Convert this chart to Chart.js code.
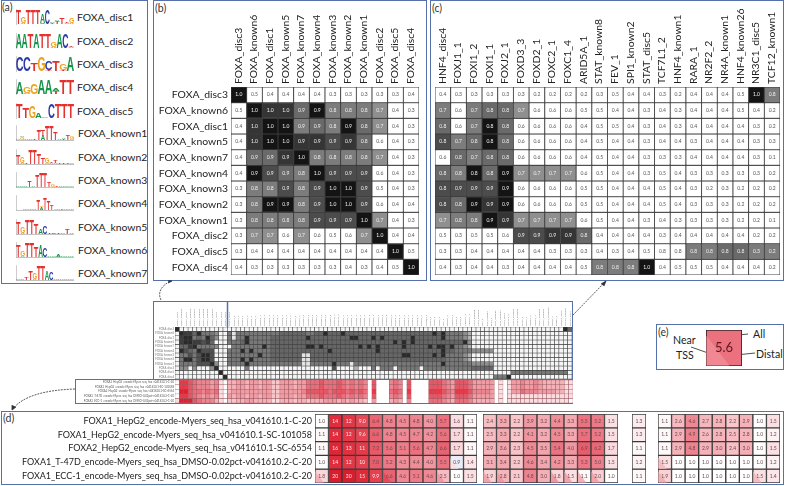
<!DOCTYPE html>
<html>
<head>
<meta charset="utf-8">
<title>FOXA motif enrichment</title>
<script src="https://cdn.jsdelivr.net/npm/chart.js@4"></script>
<style>
    body { margin: 0; background: #fff; font-family: Lato, sans-serif; color: #222; }
    #page { position: relative; width: 785px; height: 486px; overflow: hidden; }
    canvas { position: absolute; filter: blur(0.3px); }
    #overviewGray, #overviewRed { filter: blur(0.55px); }
    .frame { position: absolute; box-sizing: border-box; border: 1.5px solid #5570ab; }
    .tag { position: absolute; font-size: 10.5px; color: #333; }
    .name { position: absolute; font-size: 10.4px; line-height: 14px; white-space: nowrap; }
    .note { font-size: 10.6px; }
    #marks { position: absolute; left: 0; top: 0; }
</style>
</head>
<body>
<div id="page">
    <div class="frame" style="left:1px;top:0;width:147px;height:284px"></div>
    <div class="frame" style="left:153px;top:0;width:274px;height:281px"></div>
    <div class="frame" style="left:430px;top:0;width:354px;height:281px"></div>
    <div class="frame" style="left:153px;top:301px;width:420px;height:79px"></div>
    <div class="frame" style="left:75px;top:379px;width:498px;height:25px"></div>
    <div class="frame" style="left:1px;top:411px;width:783px;height:74px"></div>
    <div class="frame" style="left:656px;top:324px;width:128px;height:46px"></div>
    <div class="tag" style="left:2px;top:1px">(a)</div>
    <div class="tag" style="left:155px;top:2px">(b)</div>
    <div class="tag" style="left:432px;top:2px">(c)</div>
    <div class="tag" style="left:3px;top:412px">(d)</div>
    <div class="tag" style="left:658px;top:326px">(e)</div>
    <svg id="marks" width="785" height="486" fill="none" stroke="#333" stroke-width="0.8">
        <path d="M227.5 301V404" stroke="#5570ab" stroke-width="1.5"/>
        <path d="M161 300C157 292 162 285 171 281" stroke-dasharray="2 1"/>
        <path d="M168 283L172 281L168.5 280.5" fill="#333"/>
        <path d="M573 315L606 281" stroke-dasharray="2 1"/>
        <path d="M601 284L606 281L604 286" fill="#333"/>
        <path d="M75 389C45 390 22 396 12 410" stroke-dasharray="2 1"/>
        <path d="M12 405L12 410L16 407" fill="#333"/>
        <path d="M730 336L748 334M691 347L711 354M736 355L755 353" stroke="#222"/>
    </svg>
    <div class="name note" style="left:673px;top:333px">Near</div>
    <div class="name note" style="left:676px;top:348px">TSS</div>
    <div class="name note" style="left:753px;top:327px">All</div>
    <div class="name note" style="left:756px;top:347px">Distal</div>
    <canvas id="panelB" width="264" height="274" style="left:155px;top:1px"></canvas>
    <canvas id="panelC" width="346" height="274" style="left:434px;top:1px"></canvas>
    <canvas id="overviewGray" width="418" height="77" style="left:154px;top:302px"></canvas>
    <canvas id="overviewRed" width="497" height="23" style="left:76px;top:380px"></canvas>
    <canvas id="panelD1" width="474" height="69" style="left:3px;top:414px"></canvas>
    <canvas id="panelD2" width="135" height="69" style="left:483px;top:414px"></canvas>
    <canvas id="panelD3" width="14" height="69" style="left:632px;top:414px"></canvas>
    <canvas id="panelD4" width="122" height="69" style="left:658px;top:414px"></canvas>
    <canvas id="panelE" width="36" height="36" style="left:706px;top:330px"></canvas>
</div>

<script>
// Motif names and printed similarity values (b, c)
const motifsB = ['FOXA_disc3', 'FOXA_known6', 'FOXA_disc1', 'FOXA_known5', 'FOXA_known7', 'FOXA_known4',
    'FOXA_known3', 'FOXA_known2', 'FOXA_known1', 'FOXA_disc2', 'FOXA_disc5', 'FOXA_disc4'];
const motifsC = ['HNF4_disc4', 'FOXJ1_1', 'FOXI1_2', 'FOXI1_1', 'FOXJ2_1', 'FOXD3_3', 'FOXD2_1', 'FOXC2_1', 'FOXC1_4',
    'ARID5A_1', 'STAT_known8', 'FEV_1', 'SPI1_known2', 'STAT_disc5', 'TCF7L1_2', 'HNF4_known1', 'RARA_1', 'NR2F2_2',
    'NR4A_known1', 'HNF4_known26', 'NR3C1_disc5', 'TCF12_known1'];

const valuesB = [
    [1.0, 0.5, 0.4, 0.4, 0.4, 0.4, 0.3, 0.3, 0.3, 0.3, 0.3, 0.4],
    [0.5, 1.0, 1.0, 1.0, 0.9, 0.9, 0.8, 0.8, 0.8, 0.7, 0.4, 0.3],
    [0.4, 1.0, 1.0, 1.0, 0.9, 0.9, 0.8, 0.9, 0.8, 0.7, 0.4, 0.3],
    [0.4, 1.0, 1.0, 1.0, 0.9, 0.9, 0.9, 0.9, 0.8, 0.6, 0.4, 0.3],
    [0.4, 0.9, 0.9, 0.9, 1.0, 0.8, 0.8, 0.8, 0.8, 0.7, 0.4, 0.3],
    [0.4, 0.9, 0.9, 0.9, 0.8, 1.0, 0.9, 0.9, 0.9, 0.6, 0.4, 0.3],
    [0.3, 0.8, 0.8, 0.9, 0.8, 0.9, 1.0, 1.0, 0.9, 0.5, 0.4, 0.3],
    [0.3, 0.8, 0.9, 0.9, 0.8, 0.9, 1.0, 1.0, 0.9, 0.6, 0.4, 0.4],
    [0.3, 0.8, 0.8, 0.8, 0.8, 0.9, 0.9, 0.9, 1.0, 0.7, 0.4, 0.3],
    [0.3, 0.7, 0.7, 0.6, 0.7, 0.6, 0.5, 0.6, 0.7, 1.0, 0.4, 0.4],
    [0.3, 0.4, 0.4, 0.4, 0.4, 0.4, 0.4, 0.4, 0.4, 0.4, 1.0, 0.5],
    [0.4, 0.3, 0.3, 0.3, 0.3, 0.3, 0.3, 0.4, 0.3, 0.4, 0.5, 1.0]
];
// darkness of each cell, 0 white to 9 black
const shadeB = [
    '900000000000',
    '098869555400',
    '089956596400',
    '089988786000',
    '066895555400',
    '097659777000',
    '055757997000',
    '059957997000',
    '055557779400',
    '044040004900',
    '000000000090',
    '000000000009'
];

const valuesC = [
    [0.4, 0.3, 0.3, 0.3, 0.3, 0.3, 0.2, 0.2, 0.2, 0.2, 0.3, 0.5, 0.4, 0.4, 0.3, 0.2, 0.4, 0.4, 0.4, 0.5, 1.0, 0.8],
    [0.7, 0.6, 0.7, 0.8, 0.8, 0.7, 0.6, 0.6, 0.6, 0.5, 0.5, 0.4, 0.4, 0.3, 0.4, 0.3, 0.4, 0.4, 0.4, 0.5, 0.4, 0.2],
    [0.8, 0.6, 0.7, 0.8, 0.8, 0.6, 0.6, 0.6, 0.6, 0.4, 0.5, 0.5, 0.4, 0.3, 0.4, 0.3, 0.4, 0.4, 0.4, 0.4, 0.3, 0.2],
    [0.8, 0.7, 0.8, 0.8, 0.8, 0.6, 0.6, 0.6, 0.6, 0.4, 0.5, 0.4, 0.4, 0.3, 0.4, 0.4, 0.3, 0.4, 0.4, 0.4, 0.3, 0.3],
    [0.6, 0.8, 0.7, 0.8, 0.8, 0.6, 0.6, 0.6, 0.6, 0.4, 0.5, 0.4, 0.4, 0.3, 0.3, 0.3, 0.4, 0.4, 0.4, 0.4, 0.3, 0.1],
    [0.8, 0.8, 0.8, 0.8, 0.9, 0.7, 0.7, 0.7, 0.7, 0.6, 0.5, 0.4, 0.4, 0.3, 0.5, 0.4, 0.3, 0.3, 0.3, 0.3, 0.3, 0.2],
    [0.8, 0.9, 0.9, 0.9, 0.9, 0.6, 0.6, 0.6, 0.6, 0.5, 0.5, 0.4, 0.4, 0.4, 0.5, 0.4, 0.3, 0.2, 0.3, 0.2, 0.2, 0.2],
    [0.8, 0.8, 0.9, 0.9, 0.9, 0.6, 0.6, 0.6, 0.6, 0.5, 0.5, 0.4, 0.4, 0.4, 0.5, 0.4, 0.3, 0.3, 0.3, 0.2, 0.2, 0.2],
    [0.7, 0.8, 0.8, 0.9, 0.9, 0.7, 0.7, 0.7, 0.7, 0.6, 0.5, 0.4, 0.4, 0.3, 0.4, 0.3, 0.3, 0.3, 0.3, 0.2, 0.2, 0.1],
    [0.5, 0.3, 0.5, 0.5, 0.6, 0.9, 0.9, 0.9, 0.9, 0.8, 0.4, 0.4, 0.4, 0.4, 0.3, 0.4, 0.4, 0.4, 0.4, 0.4, 0.2, 0.2],
    [0.3, 0.3, 0.4, 0.4, 0.4, 0.4, 0.4, 0.3, 0.3, 0.3, 0.4, 0.3, 0.4, 0.5, 0.8, 0.8, 0.8, 0.8, 0.8, 0.8, 0.3, 0.2],
    [0.4, 0.3, 0.4, 0.4, 0.3, 0.4, 0.4, 0.4, 0.4, 0.5, 0.8, 0.8, 0.8, 1.0, 0.4, 0.5, 0.5, 0.5, 0.4, 0.4, 0.4, 0.2]
];
const shadeC = [
    '0000000000000000000095',
    '5056640000000000000000',
    '6059600000000000000000',
    '7569600000000000000000',
    '0656600000000000000000',
    '6596944440000000000000',
    '7777900000000000000000',
    '7698900000000000000000',
    '4559844440000000000000',
    '0000077886000000000000',
    '0000000000000000556655',
    '0000000000555900000000'
];

// Chip-seq experiments and enrichment values (d, e)
const experiments = [
    'FOXA1_HepG2_encode-Myers_seq_hsa_v041610.1-C-20',
    'FOXA1_HepG2_encode-Myers_seq_hsa_v041610.1-SC-101058',
    'FOXA2_HepG2_encode-Myers_seq_hsa_v041610.1-SC-6554',
    'FOXA1_T-47D_encode-Myers_seq_hsa_DMSO-0.02pct-v041610.2-C-20',
    'FOXA1_ECC-1_encode-Myers_seq_hsa_DMSO-0.02pct-v041610.2-C-20'
];
const enrichD1 = [
    [1.0, 14, 12, 9.0, 6.4, 4.8, 4.5, 4.8, 4.0, 5.7, 1.6, 1.1],
    [1.1, 14, 12, 9.6, 6.6, 4.8, 4.5, 4.7, 4.2, 5.6, 1.7, 1.1],
    [1.1, 16, 13, 11, 7.2, 5.6, 5.1, 5.6, 4.7, 6.6, 1.7, 1.1],
    [1.0, 14, 12, 10, 7.0, 5.2, 4.3, 4.4, 4.0, 5.5, 0.9, 1.4],
    [1.8, 20, 20, 15, 9.9, 6.6, 4.6, 5.1, 4.6, 2.5, 1.0, 1.5]
];
const enrichD2 = [
    [2.4, 3.3, 2.2, 3.9, 3.2, 4.4, 3.3, 5.5, 5.2, 1.5],
    [2.5, 3.3, 2.2, 4.1, 3.2, 4.5, 3.3, 5.7, 5.2, 1.5],
    [2.9, 3.6, 2.3, 4.5, 3.5, 5.4, 4.0, 6.9, 6.2, 1.7],
    [3.1, 3.4, 2.2, 4.6, 3.4, 4.2, 3.3, 5.3, 5.0, 1.5],
    [1.9, 2.8, 2.1, 4.8, 3.0, 1.8, 1.5, 1.1, 2.0, 1.0]
];
const enrichD3 = [[1.3], [1.3], [1.1], [1.2], [1.1]];
const enrichD4 = [
    [1.1, 2.6, 4.6, 2.7, 2.8, 2.2, 2.9, 1.0, 1.5],
    [1.1, 2.9, 4.9, 2.6, 2.8, 2.5, 2.8, 1.0, 1.2],
    [1.1, 2.9, 4.8, 2.9, 3.0, 2.4, 3.0, 1.0, 1.5],
    [1.5, 1.0, 1.0, 1.0, 1.0, 1.0, 1.0, 1.0, 1.2],
    [1.9, 1.0, 1.0, 1.0, 1.0, 1.0, 1.0, 1.5, 1.4]
];
// near-TSS enrichment where it differs from the whole cell: [row, column, value]
const nearTssD1 = [[4, 0, 3.0], [4, 5, 9.0], [4, 9, 4.0], [3, 10, 1.5]];
const nearTssD2 = [[4, 0, 3.5], [4, 1, 4.0], [4, 5, 4.0], [4, 6, 3.5], [4, 7, 3.0], [4, 8, 3.5]];
const nearTssD4 = [[3, 0, 2.5], [4, 0, 3.0], [4, 7, 2.5]];
const enrichE = [[5.6]];
const nearTssE = [[0, 0, 4.6]];

// Overview columns beyond the 12 FOXA motifs, labels barely legible
const overviewMotifs = motifsB.concat(['HNF4_disc4', 'FOXJ1_1', 'FOXJ1_2', 'FOXJ3_1', 'FOXJ3_2', 'FOXI1_2', 'FOXI1_1', 'FOXP1_1',
    'FOXP2_1', 'FOXP3_1', 'FOXP4_1', 'FOXK1_1', 'FOXK1_2', 'FOXL1_1', 'FOXL1_2', 'FOXJ2_1', 'FOXJ2_2', 'FOXO1_1', 'FOXO1_2',
    'FOXO3_1', 'FOXO3_2', 'FOXO4_1', 'FOXO4_2', 'FOXO6_1', 'FOXM1_1', 'FOXM1_2', 'FOXF1_1', 'FOXF2_1', 'FOXG1_1', 'FOXB1_1',
    'FOXB1_2', 'FOXD1_1', 'FOXD1_2', 'FOXD2_1', 'FOXD3_1', 'FOXD3_2', 'FOXD3_3', 'FOXD4_1', 'FOXC1_1', 'FOXC1_2', 'FOXC1_3',
    'FOXC1_4', 'FOXC2_1', 'FOXC2_2', 'FOXS1_1', 'FOXQ1_1', 'HNF1_1', 'SOX2_1', 'SOX9_1', 'SRY_1', 'PRRX2_1', 'HOXA9_1',
    'CDX2_1', 'NKX2_1', 'ARID5A_1', 'ARID3A_1', 'STAT_known8', 'STAT_known9', 'FEV_1', 'ETS_known1', 'ELF1_1', 'SPI1_known2',
    'SPI1_known4', 'STAT_disc5', 'TCF7L1_2', 'HNF4_known1', 'HNF4_known2', 'RARA_1', 'RXRA_1', 'NR2F2_2', 'NR2F1_1',
    'NR4A_known1', 'NR4A_known2', 'HNF4_known26', 'NR1H_1', 'ESRRA_1', 'NR3C1_disc5', 'TCF12_known1', 'TCF12_disc1']);
const overviewShade = [
    '0000000000' + '0000000000' + '0000000000' + '0000000000' + '0000000000' + '0000000000' + '0000000000' + '000000096',
    '5155555555' + '5566666655' + '6696669666' + '6666666666' + '6666666969' + '5555430000' + '0000000000' + '000000000',
    '5155955555' + '6666666696' + '6666666699' + '6669696666' + '6696666669' + '5555430000' + '0000000000' + '000000000',
    '5556955555' + '6666666666' + '6666666666' + '6666666696' + '9696666666' + '6666940000' + '0000000000' + '000000000',
    '0555555595' + '6666666699' + '6966666666' + '9696966666' + '9666669699' + '6955430000' + '0000000000' + '000000000',
    '5559595555' + '6666666666' + '6669666666' + '6666966666' + '6666666669' + '6655554444' + '4000000000' + '000000000',
    '5555555955' + '6666666116' + '6666666666' + '6666666666' + '9966666969' + '5555430000' + '0000000000' + '000000000',
    '5559595555' + '6666666116' + '6666666666' + '6666666666' + '6666666666' + '5555430000' + '0000000000' + '000000000',
    '5555955555' + '5555555115' + '5555955515' + '5555555555' + '5555555559' + '5555554444' + '4000000000' + '000000000',
    '0000500000' + '0000000000' + '0000700003' + '0005055505' + '5555055555' + '5555556666' + '6000000000' + '000000000',
    '0000000000' + '0000000000' + '0000000000' + '0000000000' + '0000000000' + '0000000000' + '0000055555' + '555555550',
    '0000000000' + '0000000000' + '0000000000' + '0000000000' + '0000000000' + '0000000000' + '0555900000' + '000000000'
];
// red level per column, 0 white to 9 saturated, '-' for columns without a cell
const overviewRed = [
    '088765554510' + '3344344344' + '2244434466' + '6766676565' + '65-7---565' + '-7----7776' + '5477764444' + '4-1-144544' + '543333311',
    '088765554510' + '3344344344' + '2244434466' + '6766676565' + '65-7---565' + '-7----7776' + '5477764444' + '4-1-144544' + '543333311',
    '099766565610' + '3444444444' + '2244444577' + '7776777676' + '76-8---676' + '-8----8887' + '6588875555' + '4-1-144655' + '544443311',
    '088765454510' + '4344344344' + '2244434466' + '6766676565' + '65-7---565' + '-7----7776' + '5477764444' + '4-1-111111' + '111111111',
    '199976555310' + '2233443333' + '1133323323' + '3344434343' + '32-4---343' + '-5----6665' + '4366653333' + '3-1-111111' + '111111110'
];

// Sequence logos: one stack per position, bottom letter first, height in tenths of the axis
const logoDisc1 = 'T9 A1G4 T9 T9 T9 C1A6 C9 T1A1 T2A1 T4 A1T1 A1G3'.split(' ');
const logoDisc2 = 'A9 A9 T9 A9 T9 T9 A1G3 A9 C9 A1T1'.split(' ');
const logoDisc3 = 'C9 C9 T5 G9 T1C6 T7 T1G4 A9'.split(' ');
const logoDisc4 = 'A8 A1G4 G7 A9 A9 T2A2 T9 T9'.split(' ');
const logoDisc5 = 'T9 T7 G8 A3 A1 C9 T9 T9 T9'.split(' ');
const logoKnown1 = 'A1 G2A1 A1 A1 T1 T7 A3T4 T9 T9 T5 A1 T1A1 T3 A1G2'.split(' ');
const logoKnown2 = 'T6 A1G4 T1 T9 T9 T7 T4 A1G3 A1T1 A1T2 T1 T1 T1 A1'.split(' ');
const logoKnown3 = 'A1 A1 A1 T4 A1 T8 T9 T9 T3 G2 T1 A1 A1 A1 A1'.split(' ');
const logoKnown4 = 'A0 A0 A1 A1 A1 A1 T7 A2G1 T8 T6 T3 G1 A1 T1 A1 A1 A1'.split(' ');
const logoKnown5 = 'T8 A1G4 T9 T9 T7 A3 C5 T1 C1 T1 A1 T3 A1'.split(' ');
const logoKnown6 = 'T8 A1G3 T9 T9 T7 A8 C6 A1 A1 A2 A1 A1 A1'.split(' ');
const logoKnown7 = 'A1 A1 T2 T6 A1G4 T9 T9 A6 C5 A1 A1 A1 A1 A1'.split(' ');

const logoNames = ['FOXA_disc1', 'FOXA_disc2', 'FOXA_disc3', 'FOXA_disc4', 'FOXA_disc5', 'FOXA_known1',
    'FOXA_known2', 'FOXA_known3', 'FOXA_known4', 'FOXA_known5', 'FOXA_known6', 'FOXA_known7'];
const logoStacks = [logoDisc1, logoDisc2, logoDisc3, logoDisc4, logoDisc5, logoKnown1,
    logoKnown2, logoKnown3, logoKnown4, logoKnown5, logoKnown6, logoKnown7];
const logoRowY = [17, 41, 64, 87, 111, 133, 157, 180, 203, 227, 250, 273];

const grayLevels = ['#ffffff', '#ececec', '#cfcfcf', '#b0b0b0', '#8f8f8f', '#7c7c7c', '#6a6a6a', '#4c4c4c', '#353535', '#141414'];
const overviewLevels = ['#f5f5f5', '#e4e4e4', '#cfcfcf', '#b0b0b0', '#8e8e8e', '#787878', '#666666', '#505050', '#3c3c3c', '#2a2a2a'];
const redLevels = ['#ffffff', '#fadde0', '#f7c6cb', '#f4b1b8', '#f19ca5', '#ed8591', '#ea6e7b', '#e75664', '#e23c4b', '#d92233'];
const letterColors = { A: '#17944b', C: '#2b3aa6', G: '#eda21c', T: '#e2312f' };

function hexToRgb(hex) {
    return [1, 3, 5].map(i => parseInt(hex.slice(i, i + 2), 16));
}

// Colour of an enrichment value, piecewise between reference stops
function enrichColor(value) {
    if (value < 1) return '#e8eef9';
    const stops = [[1.0, '#ffffff'], [1.5, '#fbe0e3'], [2.5, '#f6bcc2'], [3.5, '#f3a3ac'], [4.5, '#ef8a95'],
        [5.5, '#ec7280'], [7, '#e85c6b'], [10, '#e5404f'], [14, '#e02c3c'], [20, '#d81e2e']];
    for (let i = 1; i < stops.length; i++) {
        if (value <= stops[i][0]) {
            const t = (value - stops[i - 1][0]) / (stops[i][0] - stops[i - 1][0]);
            const a = hexToRgb(stops[i - 1][1]);
            const b = hexToRgb(stops[i][1]);
            return 'rgb(' + a.map((v, k) => Math.round(v + (b[k] - v) * t)).join(',') + ')';
        }
    }
    return '#d81e2e';
}

// Writes printed numbers and near-TSS corners on top of the bars
const cellTextPlugin = {
    id: 'cellText',
    afterDatasetsDraw(chart, args, opts) {
        const ctx = chart.ctx;
        ctx.save();
        if (opts.nearTss) {
            opts.nearTss.forEach(item => {
                const bar = chart.getDatasetMeta(item[0]).data[item[1]];
                const half = bar.width / 2 - 0.5;
                const top = Math.min(bar.y, bar.base) + 0.5;
                const bottom = Math.max(bar.y, bar.base) - 0.5;
                ctx.fillStyle = enrichColor(item[2]);
                ctx.beginPath();
                ctx.moveTo(bar.x - half, top + (bottom - top) * 0.15);
                ctx.lineTo(bar.x - half, bottom);
                ctx.lineTo(bar.x + half * 0.3, bottom);
                ctx.closePath();
                ctx.fill();
            });
        }
        if (opts.text) {
            ctx.font = opts.font || '5px Lato, sans-serif';
            ctx.textAlign = 'center';
            ctx.textBaseline = 'middle';
            opts.text.forEach((row, r) => {
                chart.getDatasetMeta(r).data.forEach((bar, c) => {
                    ctx.fillStyle = opts.textColor(r, c);
                    ctx.fillText(opts.format(row[c]), bar.x, (bar.y + bar.base) / 2);
                });
            });
        }
        ctx.restore();
    }
};

// A heat map as floating bars: one dataset per row, one bar per column
function drawHeatmap(id, cfg) {
    const rows = cfg.colors.length;
    const rowIndex = cfg.colors.map((_, r) => r);
    const xFont = cfg.xFont || 10.4;
    new Chart(document.getElementById(id), {
        type: 'bar',
        data: {
            labels: cfg.xLabels || cfg.colors[0].map((_, c) => String(c)),
            datasets: rowIndex.map(r => ({
                data: cfg.colors[r].map(color => (color ? [r, r + 1] : null)),
                backgroundColor: cfg.colors[r],
                borderColor: cfg.border || '#444',
                borderWidth: cfg.borderWidth === undefined ? 0.8 : cfg.borderWidth,
                borderSkipped: false
            }))
        },
        options: {
            responsive: false,
            animation: false,
            layout: { padding: 0 },
            datasets: { bar: { grouped: false, barPercentage: 1, categoryPercentage: 1 } },
            plugins: {
                legend: { display: false },
                tooltip: { enabled: false },
                cellText: cfg.cellText || {}
            },
            scales: {
                x: {
                    position: 'top',
                    display: !!cfg.xLabels,
                    grid: { display: false, drawTicks: false },
                    border: { display: false },
                    ticks: {
                        autoSkip: false, minRotation: 90, maxRotation: 90, padding: cfg.xPad || 3,
                        // rotated labels on a top axis sit left of their column otherwise
                        labelOffset: xFont * 1.15,
                        color: cfg.tickColor || '#222', font: { family: 'Lato', size: xFont }
                    },
                    afterFit: scale => {
                        scale.height = cfg.top || 0;
                        scale.paddingLeft = 0;
                        scale.paddingRight = 0;
                    }
                },
                y: {
                    display: !!cfg.yLabels,
                    reverse: true,
                    min: 0,
                    max: rows,
                    grid: { display: false, drawTicks: false },
                    border: { display: false },
                    afterBuildTicks: scale => { scale.ticks = rowIndex.map(r => ({ value: r + 0.5 })); },
                    ticks: {
                        autoSkip: false, padding: cfg.yPad || 3,
                        color: cfg.tickColor || '#222', font: { family: 'Lato', size: cfg.yFont || 10.4 },
                        callback: value => (cfg.yLabels ? cfg.yLabels[Math.floor(value)] : '')
                    },
                    afterFit: scale => {
                        scale.width = cfg.left || 0;
                        scale.paddingTop = 0;
                        scale.paddingBottom = 0;
                    }
                }
            }
        },
        plugins: [cellTextPlugin]
    });
}

function shadeColors(shade, levels) {
    return shade.map(row => row.split('').map(ch => (ch === '-' ? null : levels[Number(ch)])));
}

function similarityPanel(id, xLabels, yLabels, values, shade, left) {
    drawHeatmap(id, {
        xLabels: xLabels, yLabels: yLabels, left: left, top: 86,
        colors: shadeColors(shade, grayLevels),
        border: '#3d3d3d',
        cellText: {
            text: values,
            format: v => v.toFixed(1),
            textColor: (r, c) => (Number(shade[r][c]) >= 4 ? '#f0f0f0' : '#555')
        }
    });
}

function enrichmentPanel(id, values, yLabels, left, nearTss) {
    drawHeatmap(id, {
        yLabels: yLabels, left: left, yFont: 9, yPad: 3, top: 0,
        colors: values.map(row => row.map(enrichColor)),
        border: '#3a3a3a',
        borderWidth: 1,
        cellText: {
            nearTss: nearTss,
            text: values,
            format: v => (v >= 10 ? v.toFixed(0) : v.toFixed(1)),
            textColor: (r, c) => (values[r][c] >= 8 ? '#ffe9ea' : '#6b4a4e')
        }
    });
}

// Letters of a logo fill the stacked bars the scale gives them
const logoLetterPlugin = {
    id: 'logoLetters',
    afterDatasetsDraw(chart) {
        const ctx = chart.ctx;
        chart.data.datasets.forEach((dataset, d) => {
            chart.getDatasetMeta(d).data.forEach((bar, i) => {
                const letter = dataset.letters[i];
                const height = Math.abs(bar.base - bar.y);
                if (!letter || height < 0.2) return;
                ctx.save();
                ctx.font = 'bold 40px "Liberation Sans"';
                ctx.textAlign = 'left';
                ctx.textBaseline = 'alphabetic';
                const m = ctx.measureText(letter);
                const glyphW = m.actualBoundingBoxLeft + m.actualBoundingBoxRight;
                const glyphH = m.actualBoundingBoxAscent + m.actualBoundingBoxDescent;
                ctx.translate(bar.x - bar.width / 2, Math.max(bar.base, bar.y));
                ctx.scale(bar.width / glyphW, height / glyphH);
                ctx.fillStyle = letterColors[letter];
                ctx.fillText(letter, m.actualBoundingBoxLeft, -m.actualBoundingBoxDescent);
                ctx.restore();
            });
        });
    }
};

function drawLogo(stack, name, rowY, known) {
    const page = document.getElementById('page');
    const canvas = document.createElement('canvas');
    canvas.width = 60;
    canvas.height = 16;
    canvas.style.left = '14px';
    canvas.style.top = (rowY - 8) + 'px';
    page.appendChild(canvas);

    const parsed = stack.map(text => text.match(/[ACGT]\d/g));
    const datasets = [0, 1].map(slot => ({
        data: parsed.map(items => (items[slot] ? Number(items[slot][1]) : 0)),
        letters: parsed.map(items => (items[slot] ? items[slot][0] : '')),
        backgroundColor: 'rgba(0,0,0,0)',
        stack: 'logo'
    }));
    new Chart(canvas, {
        type: 'bar',
        data: { labels: stack.map((_, i) => String(i + 1)), datasets: datasets },
        options: {
            responsive: false,
            animation: false,
            datasets: { bar: { barPercentage: 1, categoryPercentage: 1 } },
            plugins: { legend: { display: false }, tooltip: { enabled: false } },
            scales: {
                x: {
                    stacked: true,
                    grid: { display: false, drawTicks: false },
                    border: { color: known ? '#999' : '#fff', width: 0.6 },
                    ticks: { display: false },
                    afterFit: scale => { scale.height = 1; }
                },
                y: {
                    stacked: true,
                    min: 0,
                    max: 10,
                    grid: { display: false, drawTicks: false },
                    border: { color: '#aaa', width: 0.6 },
                    ticks: { display: false },
                    afterFit: scale => { scale.width = 2; }
                }
            }
        },
        plugins: [logoLetterPlugin]
    });

    const label = document.createElement('div');
    label.className = 'name';
    label.style.left = (known ? 78 : 77) + 'px';
    label.style.top = (rowY - 7) + 'px';
    label.textContent = name;
    page.appendChild(label);
}

document.addEventListener('DOMContentLoaded', function() {
    logoStacks.forEach((stack, i) => drawLogo(stack, logoNames[i], logoRowY[i], i >= 5));

    similarityPanel('panelB', motifsB, motifsB, valuesB, shadeB, 76);
    similarityPanel('panelC', motifsC, null, valuesC, shadeC, 1);

    // overview: first 12 columns are the panel (b) shades
    drawHeatmap('overviewGray', {
        xLabels: overviewMotifs, yLabels: motifsB, left: 21, top: 25, xFont: 2.6, yFont: 2.8, xPad: 1, yPad: 1,
        tickColor: '#777',
        colors: shadeColors(motifsB.map((_, r) => shadeB[r] + overviewShade[r]), overviewLevels),
        border: '#444',
        borderWidth: 0.6
    });
    drawHeatmap('overviewRed', {
        yLabels: experiments, left: 99, yFont: 2.8, yPad: 1,
        tickColor: '#555',
        colors: shadeColors(overviewRed, redLevels),
        border: '#9a5a60',
        borderWidth: 0.5
    });

    enrichmentPanel('panelD1', enrichD1, experiments, 312, nearTssD1);
    enrichmentPanel('panelD2', enrichD2, null, 0, nearTssD2);
    enrichmentPanel('panelD3', enrichD3, null, 0, null);
    enrichmentPanel('panelD4', enrichD4, null, 0, nearTssD4);

    drawHeatmap('panelE', {
        colors: enrichE.map(row => row.map(enrichColor)),
        border: '#3a2428',
        borderWidth: 1.2,
        cellText: {
            nearTss: nearTssE,
            text: enrichE,
            font: '13px Lato, sans-serif',
            format: v => v.toFixed(1),
            textColor: () => '#5c1620'
        }
    });
});
</script>
</body>
</html>
